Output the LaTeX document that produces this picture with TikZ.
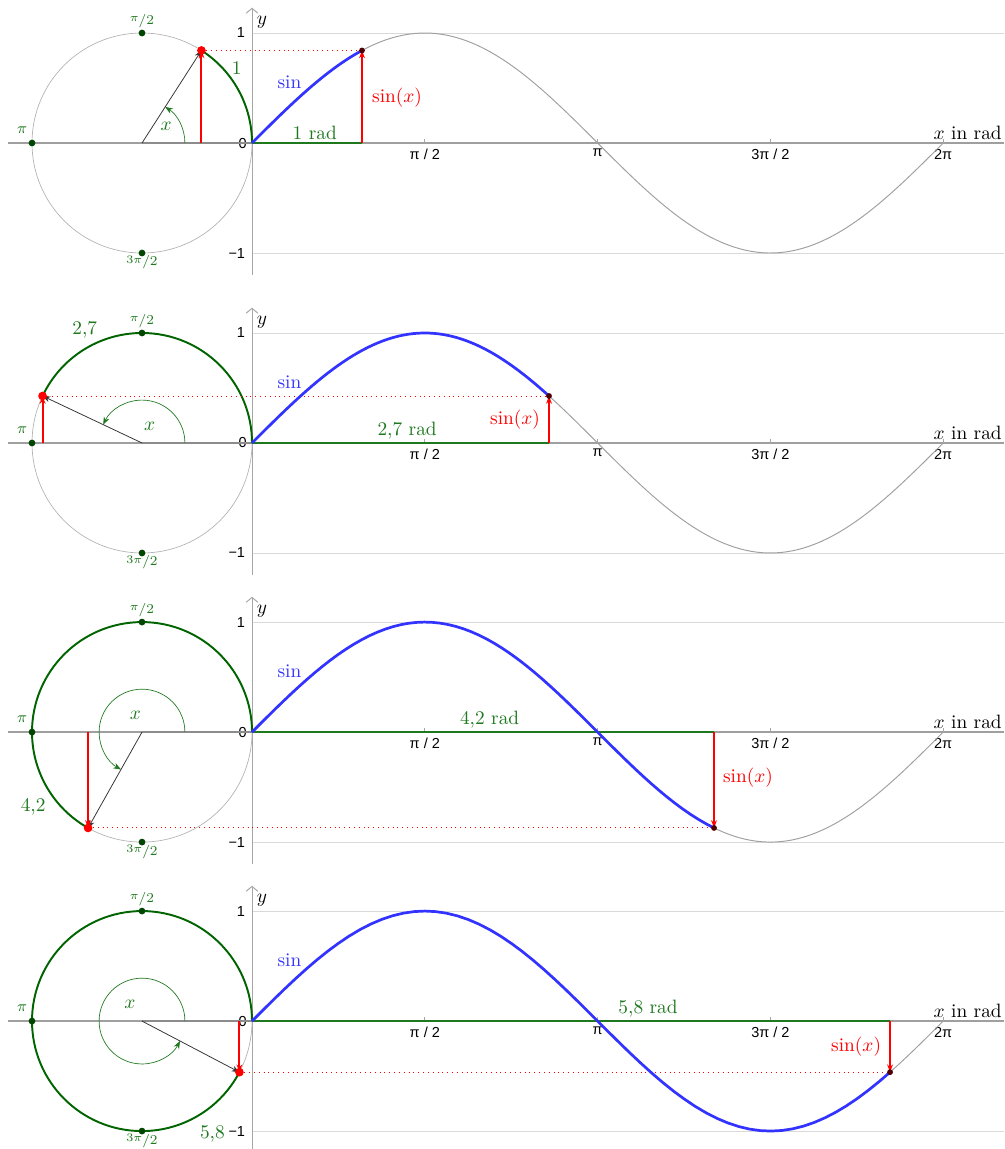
\documentclass[tikz,border=0pt]{standalone}
\usepackage{fontspec}
\newfontfamily\axisfont{Liberation Sans}
\usepackage{tikz}
\usetikzlibrary{arrows.meta}

\definecolor{arcgreen}{RGB}{0,100,0}
\definecolor{labgreen}{RGB}{30,120,30}
\definecolor{dotgreen}{RGB}{0,70,0}
\definecolor{sinblue}{RGB}{51,51,255}
\definecolor{curvegray}{RGB}{160,160,160}

\begin{document}
\begin{tikzpicture}[
  x=2cm, y=2cm,
  >={Stealth[length=4pt,width=3pt]},
  axis/.style={draw=gray!75, line width=0.8pt},
  gridline/.style={draw=gray!30, line width=0.4pt},
  ticklab/.style={font=\axisfont\fontsize{7.5}{9}\selectfont, inner sep=0pt},
  glab/.style={text=labgreen, inner sep=1pt},
  circlab/.style={text=labgreen, inner sep=0pt, font=\scriptsize},
  dot/.style={circle, fill=#1, inner sep=0pt, minimum size=3.5pt},
  redarr/.style={->, draw=red, line width=1pt},
]
\useasboundingbox (-2.291,1.3) rectangle (6.836,-9.145);

%% ─── one panel per angle ──────────────────────────────────────────────────────
\foreach \angv/\yo/\tlab/\rx/\sx/\sy/\sa/\lx/\ly/\ax in {
    1/0/1/0.57/1.03/0.41/west/-0.14/0.68/-0.78,
    2.7/-2.727/{2,7}/1.41/2.68/0.21/east/-1.52/1.03/-0.93,
    4.2/-5.355/{4,2}/2.16/4.22/-0.41/west/-1.99/-0.68/-1.06,
    5.8/-7.982/{5,8}/3.6/5.78/-0.23/east/-0.36/-1.03/-1.11}
{
\begin{scope}[shift={(0,\yo)}]
  \pgfmathsetmacro\ang{deg(\angv)}
  \pgfmathsetmacro\cx{cos(\ang)-1}
  \pgfmathsetmacro\sv{sin(\ang)}

  %% grid and axes
  \draw[gridline] (0,1) -- (6.836,1);
  \draw[gridline] (0,-1) -- (6.836,-1);
  \draw[axis] (-2.22,0) -- (6.836,0);
  \draw[gray!70, line width=0.5pt, -{Straight Barb[length=2.5pt,width=6pt]}]
    (0,-1.2) -- (0,1.23);
  \node at (0.09,1.1) {$y$};
  \node[anchor=south east, inner sep=1pt] at (6.836,0.01) {$x$ in rad};
  \foreach \k/\lab in {1/{π / 2}, 2/π, 3/{3π / 2}, 4/2π} {
    \draw[gray!70, line width=0.4pt] ({\k*pi/2},0) -- ({\k*pi/2},0.035);
    \node[ticklab, anchor=north] at ({\k*pi/2},-0.05) {\lab};
  }
  \node[ticklab, anchor=east] at (-0.06,1)  {1};
  \node[ticklab, anchor=east] at (-0.045,0) {0};
  \node[ticklab, anchor=east] at (-0.06,-1) {−1};

  %% named points
  \coordinate (ctr)   at (-1,0);
  \coordinate (pt)    at (\cx,\sv);
  \coordinate (foot)  at (\cx,0);
  \coordinate (gfoot) at (\angv,0);
  \coordinate (gpt)   at (\angv,\sv);

  %% unit circle
  \draw[gray!60, line width=0.35pt] (ctr) circle[radius=1];
  \draw[gray!90, line width=0.7pt] (ctr) -- (0,0);
  \draw[arcgreen, line width=1pt] (0,0) arc[start angle=0, end angle=\ang, radius=1];
  \draw[labgreen, line width=0.35pt, ->] (ctr) ++(0.39,0)
    arc[start angle=0, end angle=\ang, radius=0.39];
  \draw[black!80, line width=0.4pt, ->] (ctr) -- (pt);
  \draw[red, dotted, line width=0.5pt] (pt) -- (gpt);
  \draw[redarr] (foot) -- (pt);

  %% graph of sin
  \draw[curvegray, line width=0.5pt] plot[domain=0:2*pi, samples=120] (\x,{sin(\x r)});
  \draw[labgreen, line width=1pt] (0,0) -- (gfoot);
  \draw[sinblue, line width=1.4pt] plot[domain=0:\angv, samples=60] (\x,{sin(\x r)});
  \draw[redarr] (gfoot) -- (gpt);

  %% points
  \node[dot=dotgreen] (top) at (-1,1)  {};
  \node[dot=dotgreen] (lft) at (-2,0)  {};
  \node[dot=dotgreen] (bot) at (-1,-1) {};
  \node[dot=red, minimum size=4.5pt] (ptm) at (pt) {};
  \node[dot=black!70!red, minimum size=3pt] (gptm) at (gpt) {};

  %% labels
  \node[circlab, font=\footnotesize] at (-2.09,0.12) {$\pi$};
  \node[circlab, anchor=south] at (-1,1.045)
    {{\fontsize{6}{7}\selectfont\raisebox{1.5pt}{$\pi$}}/2};
  \node[circlab, anchor=north] at (-1,-1.02)
    {{\fontsize{6}{7}\selectfont\raisebox{1.5pt}{$3\pi$}}/2};
  \node[glab] at (\lx,\ly) {\tlab};
  \node[glab] at (\ax,0.15) {$x$};
  \node[text=sinblue] at (0.34,0.55) {sin};
  \node[glab, anchor=south] at (\rx,0.01) {\tlab{} rad};
  \node[red, anchor=\sa] at (\sx,\sy) {$\sin(x)$};
\end{scope}
}
\end{tikzpicture}
\end{document}
